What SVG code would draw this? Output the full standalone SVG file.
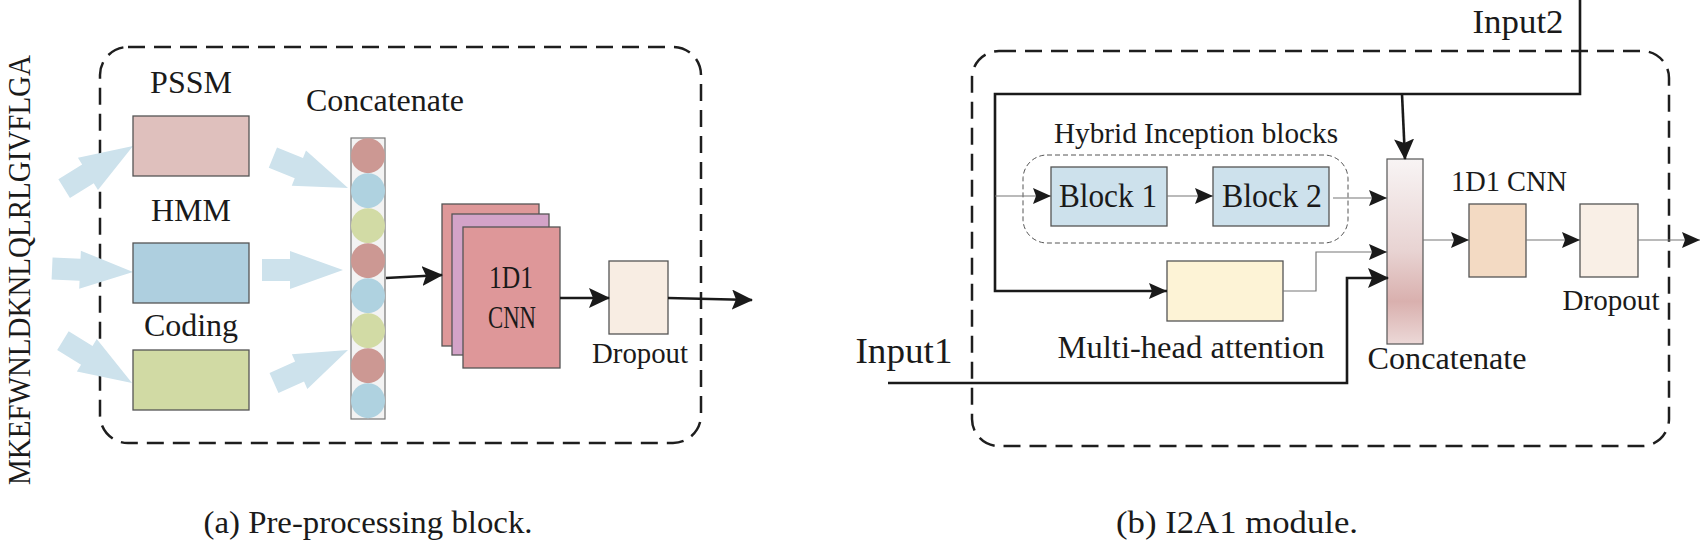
<svg xmlns="http://www.w3.org/2000/svg" width="1700" height="548" viewBox="0 0 1700 548">
<style>
text{font-family:"Liberation Serif","Times New Roman",serif;fill:#1a1a1a}
.frame{fill:none;stroke:#1e1e1e;stroke-width:2.5;stroke-dasharray:17 9}
.box{stroke:#555;stroke-width:1.3}
.thick{fill:none;stroke:#1a1a1a;stroke-width:2.6}
.thin{fill:none;stroke:#777;stroke-width:1.2}
.fat{fill:#cde2ec}
</style>
<defs>
<marker id="ah" markerUnits="userSpaceOnUse" markerWidth="22" markerHeight="22" refX="20" refY="10" orient="auto" viewBox="0 0 22 22">
<path d="M0,0 L21,10 L0,20 L4,10 Z" fill="#1a1a1a"/>
</marker>
<marker id="as" markerUnits="userSpaceOnUse" markerWidth="20" markerHeight="18" refX="18" refY="8" orient="auto" viewBox="0 0 20 18">
<path d="M0,0 L18,8 L0,16 L3,8 Z" fill="#1a1a1a"/>
</marker>
<path id="fatArrow" d="M-81,-11 L-53,-11 L-53,-19 L0,0 L-53,19 L-53,11 L-81,11 Z"/>
<linearGradient id="catGrad" x1="0" y1="0" x2="0" y2="1">
<stop offset="0" stop-color="#f8f4f4"/>
<stop offset="0.5" stop-color="#e8d3d2"/>
<stop offset="0.77" stop-color="#d9b0ae"/>
<stop offset="1" stop-color="#ecd8d7"/>
</linearGradient>
</defs>

<!-- Panel (a) -->
<rect class="frame" x="100" y="47" width="601" height="396" rx="28"/>
<text id="sequence" transform="translate(30,485) rotate(-90)" font-size="31" textLength="430" lengthAdjust="spacingAndGlyphs">MKEFWNLDKNLQLRLGIVFLGA</text>

<g id="fat-arrows" class="fat">
<use href="#fatArrow" transform="translate(133,146) rotate(-31.8)"/>
<use href="#fatArrow" transform="translate(133,272) rotate(2.5)"/>
<use href="#fatArrow" transform="translate(132,383) rotate(31.5)"/>
<use href="#fatArrow" transform="translate(348,188) rotate(22)"/>
<use href="#fatArrow" transform="translate(343,270) rotate(0)"/>
<use href="#fatArrow" transform="translate(348,350) rotate(-24)"/>
</g>

<g id="pssm">
<rect class="box" x="133" y="116" width="116" height="60" fill="#dfc0bd" stroke="#888"/>
<text x="191" y="93" font-size="32" text-anchor="middle">PSSM</text>
</g>
<g id="hmm">
<rect class="box" x="133" y="243" width="116" height="60" fill="#aecfdf"/>
<text x="191" y="221" font-size="32" text-anchor="middle">HMM</text>
</g>
<g id="coding">
<rect class="box" x="133" y="350" width="116" height="60" fill="#d1daa4" stroke="#888"/>
<text x="191" y="336" font-size="32" text-anchor="middle">Coding</text>
</g>

<g id="concat-a">
<rect x="351" y="138" width="34" height="281" fill="#f3f3f3" stroke="#777" stroke-width="1.2"/>
<ellipse cx="368" cy="155.7" rx="17" ry="17.5" fill="#cc9893"/>
<ellipse cx="368" cy="190.7" rx="17" ry="17.5" fill="#afd2e0"/>
<ellipse cx="368" cy="225.7" rx="17" ry="17.5" fill="#d2dba5"/>
<ellipse cx="368" cy="260.7" rx="17" ry="17.5" fill="#cc9893"/>
<ellipse cx="368" cy="295.7" rx="17" ry="17.5" fill="#afd2e0"/>
<ellipse cx="368" cy="330.7" rx="17" ry="17.5" fill="#d2dba5"/>
<ellipse cx="368" cy="365.7" rx="17" ry="17.5" fill="#cc9893"/>
<ellipse cx="368" cy="400.7" rx="17" ry="17.5" fill="#afd2e0"/>
<text x="385" y="111" font-size="32" text-anchor="middle">Concatenate</text>
</g>

<g id="cnn-a">
<rect class="box" x="442" y="204" width="97" height="142" fill="#de9899"/>
<rect class="box" x="452" y="214" width="97" height="141" fill="#d3a3c8"/>
<rect class="box" x="463" y="227" width="97" height="141" fill="#de9799"/>
<text x="511" y="288" font-size="31" text-anchor="middle" textLength="44" lengthAdjust="spacingAndGlyphs">1D1</text>
<text x="512" y="328" font-size="31" text-anchor="middle" textLength="48" lengthAdjust="spacingAndGlyphs">CNN</text>
</g>

<g id="dropout-a">
<rect class="box" x="609" y="261" width="59" height="73" fill="#f8ede3"/>
<text x="640" y="363" font-size="29" text-anchor="middle" textLength="96" lengthAdjust="spacingAndGlyphs">Dropout</text>
</g>

<g id="connectors-a">
<path class="thick" d="M386,278 L442,275" marker-end="url(#ah)"/>
<path class="thick" d="M560,298 H609" marker-end="url(#ah)"/>
<path class="thick" d="M668,298 L752,300" marker-end="url(#ah)"/>
</g>

<text id="caption-a" x="368" y="533" font-size="32" text-anchor="middle" textLength="329" lengthAdjust="spacingAndGlyphs">(a) Pre-processing block.</text>

<!-- Panel (b) -->
<rect class="frame" x="972" y="51" width="697" height="395" rx="27"/>

<g id="hybrid-group">
<rect x="1023" y="155" width="325" height="88" rx="24" fill="none" stroke="#555" stroke-width="1" stroke-dasharray="5 3"/>
<text x="1196" y="143" font-size="29" text-anchor="middle" textLength="284" lengthAdjust="spacingAndGlyphs">Hybrid Inception blocks</text>
</g>
<g id="block1">
<rect class="box" x="1051" y="167" width="116" height="59" fill="#cde1ec"/>
<text x="1108" y="207" font-size="33" text-anchor="middle" textLength="98" lengthAdjust="spacingAndGlyphs">Block 1</text>
</g>
<g id="block2">
<rect class="box" x="1213" y="167" width="116" height="59" fill="#cde1ec"/>
<text x="1272" y="207" font-size="33" text-anchor="middle" textLength="100" lengthAdjust="spacingAndGlyphs">Block 2</text>
</g>
<g id="attention">
<rect class="box" x="1167" y="261" width="116" height="60" fill="#fdf3d6" stroke="#888"/>
<text x="1191" y="358" font-size="31" text-anchor="middle" textLength="267" lengthAdjust="spacingAndGlyphs">Multi-head attention</text>
</g>
<g id="concat-b">
<rect x="1387" y="159" width="36" height="185" fill="url(#catGrad)" stroke="#555" stroke-width="1.2"/>
<text x="1447" y="369" font-size="32" text-anchor="middle" textLength="159" lengthAdjust="spacingAndGlyphs">Concatenate</text>
</g>
<g id="cnn-b">
<rect class="box" x="1469" y="204" width="57" height="73" fill="#f3dac3" stroke="#888"/>
<text x="1509" y="191" font-size="29" text-anchor="middle" textLength="116" lengthAdjust="spacingAndGlyphs">1D1 CNN</text>
</g>
<g id="dropout-b">
<rect class="box" x="1580" y="204" width="58" height="73" fill="#f9efe6" stroke="#888"/>
<text x="1611" y="310" font-size="29" text-anchor="middle" textLength="97" lengthAdjust="spacingAndGlyphs">Dropout</text>
</g>
<text id="input2" x="1518" y="33" font-size="34" text-anchor="middle" textLength="91" lengthAdjust="spacingAndGlyphs">Input2</text>
<text id="input1" x="904" y="363" font-size="35" text-anchor="middle" textLength="97" lengthAdjust="spacingAndGlyphs">Input1</text>

<g id="connectors-b">
<path class="thick" d="M1580,0 V94 H995 V291 H1167" marker-end="url(#as)"/>
<path class="thick" d="M1402,94 L1405,159" marker-end="url(#ah)"/>
<path class="thin" d="M995,196 H1051" marker-end="url(#as)"/>
<path class="thin" d="M1167,196 H1213" marker-end="url(#as)"/>
<path class="thin" d="M1333,198 H1387" marker-end="url(#as)"/>
<path class="thin" d="M1283,291 H1316 V252 H1387" marker-end="url(#as)"/>
<path class="thick" d="M888,383 H1347 V278 H1388" marker-end="url(#ah)"/>
<path class="thin" d="M1423,240 H1469" marker-end="url(#as)"/>
<path class="thin" d="M1526,240 H1580" marker-end="url(#as)"/>
<path class="thin" d="M1638,240 H1700" marker-end="url(#as)"/>
</g>

<text id="caption-b" x="1237" y="533" font-size="32" text-anchor="middle" textLength="242" lengthAdjust="spacingAndGlyphs">(b) I2A1 module.</text>
</svg>
